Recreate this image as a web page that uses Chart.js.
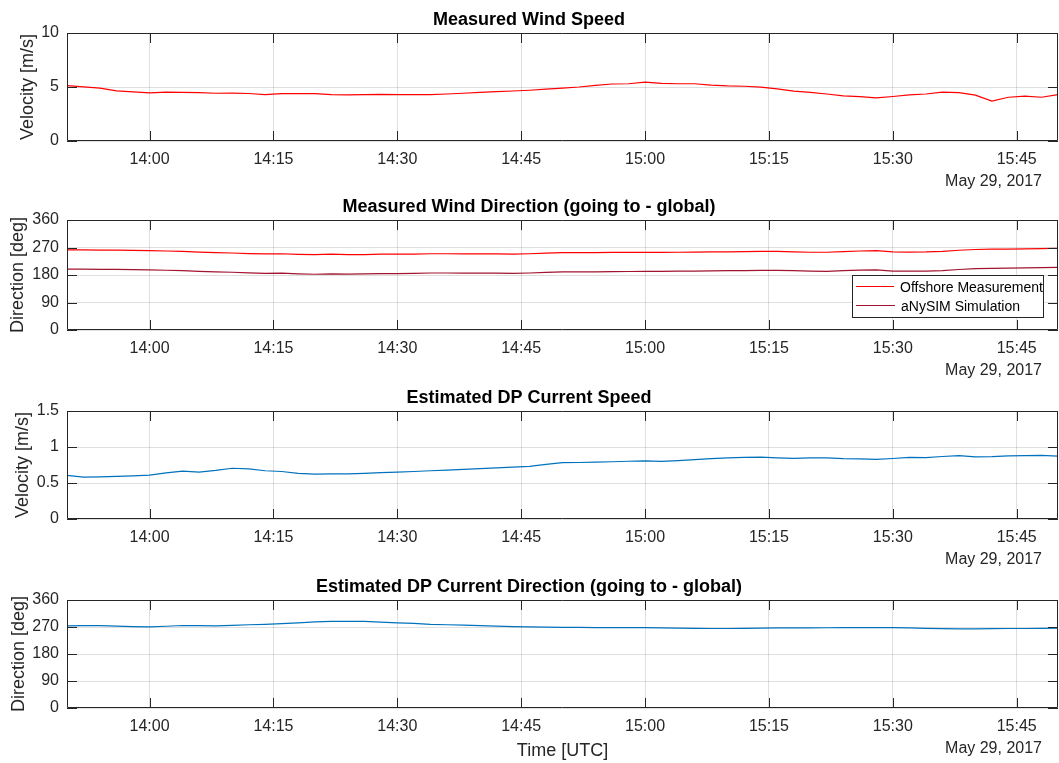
<!DOCTYPE html>
<html>
<head>
<meta charset="utf-8">
<title>Wind and current measurements</title>
<script src="https://cdn.jsdelivr.net/npm/chart.js@4.4.1/dist/chart.umd.min.js"></script>
<style>
  html, body { margin: 0; padding: 0; background: #fff; }
  body { position: relative; width: 1059px; height: 763px; overflow: hidden;
         font-family: 'Liberation Sans', Arial, Helvetica, sans-serif; }
  .panel { position: absolute; left: 0; width: 1059px; }
  #p1 { top: 4px; height: 192px; }
  #p2 { top: 191px; height: 194px; }
  #p3 { top: 382px; height: 192px; }
  #p4 { top: 571px; height: 192px; }
  #legend { position: absolute; left: 852px; top: 275px; width: 190px; height: 40px;
            border: 1px solid #262626; background: #fff; z-index: 5;
            font-size: 14px; color: #000; padding-top: 1px; box-sizing: content-box; }
  #legend .row { display: flex; align-items: center; height: 19px; white-space: nowrap; }
  #legend .swatch { width: 39px; margin: 0 6px 0 3px; border-top: 1px solid; }
</style>
</head>
<body>
<div class="panel" id="p1"><canvas id="c1"></canvas></div>
<div class="panel" id="p2"><canvas id="c2"></canvas></div>
<div class="panel" id="p3"><canvas id="c3"></canvas></div>
<div class="panel" id="p4"><canvas id="c4"></canvas></div>
<div id="legend"></div>

<script>
// sample times (UTC, 29 May 2017)
const times = [
  '13:50','13:52','13:54','13:56','13:58','14:00','14:02','14:04','14:06','14:08',
  '14:10','14:12','14:14','14:16','14:18','14:20','14:22','14:24','14:26','14:28',
  '14:30','14:32','14:34','14:36','14:38','14:40','14:42','14:44','14:46','14:48',
  '14:50','14:52','14:54','14:56','14:58','15:00','15:02','15:04','15:06','15:08',
  '15:10','15:12','15:14','15:16','15:18','15:20','15:22','15:24','15:26','15:28',
  '15:30','15:32','15:34','15:36','15:38','15:40','15:42','15:44','15:46','15:48','15:50'
];
const timeTicks = ['14:00','14:15','14:30','14:45','15:00','15:15','15:30','15:45'];
const timeRange = ['13:50', '15:50'];
const dateLabel = 'May 29, 2017';

// m/s
const windSpeed = [
  5.13, 5.02, 4.90, 4.65, 4.55, 4.45, 4.52, 4.50, 4.47, 4.42,
  4.44, 4.40, 4.30, 4.38, 4.38, 4.38, 4.30, 4.27, 4.30, 4.32,
  4.30, 4.30, 4.29, 4.35, 4.42, 4.50, 4.57, 4.63, 4.70, 4.80,
  4.90, 5.00, 5.15, 5.28, 5.30, 5.45, 5.33, 5.30, 5.30, 5.18,
  5.10, 5.07, 4.98, 4.82, 4.62, 4.50, 4.35, 4.18, 4.10, 4.00,
  4.12, 4.27, 4.35, 4.52, 4.48, 4.25, 3.70, 4.05, 4.15, 4.05, 4.30
];

// deg, going to
const windDirOffshore = [
  262, 262, 261.5, 261.5, 260.5, 259.5, 258.5, 257, 255, 253,
  252, 250, 249, 249.5, 247.5, 246.5, 248, 246.5, 247, 248,
  248, 248.5, 249.5, 249.5, 249, 249, 249, 248.5, 249.5, 251.5,
  253, 253, 253.5, 254, 254, 254, 254, 254.5, 255, 255.5,
  256, 256.5, 257, 257, 256, 254.5, 254.5, 256.5, 258.5, 259.5,
  255.5, 255, 255.5, 257.5, 261, 263.5, 264.5, 265, 265.5, 266.5, 267.5
];
const windDirSim = [
  199, 199, 198.5, 198.5, 197.5, 196.5, 195.5, 194, 192, 190,
  189, 187, 185.5, 186, 184, 182.5, 184, 183, 184, 184.5,
  184.5, 185, 186.5, 186.5, 186, 186, 186, 185.5, 186.5, 188.5,
  190, 190, 190.5, 191, 191.5, 192, 192, 192.5, 193, 193.5,
  194, 194.5, 195, 195, 194, 192.5, 192, 194, 196, 197,
  193, 192.5, 193, 194.5, 198, 201, 202, 202.5, 203, 204, 205
];

// m/s
const currentSpeed = [
  0.605, 0.582, 0.585, 0.592, 0.600, 0.609, 0.640, 0.665, 0.652, 0.675,
  0.705, 0.695, 0.670, 0.660, 0.635, 0.622, 0.626, 0.628, 0.635, 0.645,
  0.651, 0.660, 0.670, 0.680, 0.690, 0.700, 0.710, 0.720, 0.732, 0.760,
  0.782, 0.785, 0.789, 0.795, 0.802, 0.808, 0.800, 0.812, 0.825, 0.838,
  0.850, 0.856, 0.858, 0.850, 0.842, 0.848, 0.848, 0.838, 0.834, 0.828,
  0.840, 0.855, 0.852, 0.868, 0.880, 0.862, 0.866, 0.878, 0.880, 0.884, 0.872
];

// deg, going to
const currentDir = [
  273.5, 274.5, 274.5, 273, 271.5, 270.5, 272.5, 275, 274.5, 273.5,
  275.5, 277.5, 279, 281, 284, 287, 289, 289, 288.5, 286.5,
  284, 282, 279, 277.5, 276, 274.5, 273, 271.5, 270.5, 269.5,
  269, 268.5, 268, 268, 268, 268, 267, 266, 265.5, 265,
  265, 265.5, 266.5, 267, 267, 267, 267.5, 268, 268, 268,
  268, 267, 265.5, 264.5, 264, 264, 264.5, 265, 265, 265.5, 266
];

const FONT = "'Liberation Sans', Arial, Helvetica, sans-serif";
const AXIS = '#262626';
const GRID = 'rgba(38,38,38,0.15)';

Chart.defaults.font.family = FONT;
Chart.defaults.color = AXIS;

const toMin = s => { const [h, m] = s.split(':').map(Number); return h * 60 + m; };
const fmtMin = v => Math.floor(v / 60) + ':' + String(Math.round(v % 60)).padStart(2, '0');
const series = vals => times.map((t, i) => ({ x: toMin(t), y: vals[i] }));

// MATLAB style box: frame, inward ticks on all four sides, date under the axis
const matlabBox = {
  id: 'matlabBox',
  afterDraw(chart, args, opts) {
    const { ctx, chartArea: a, scales: { x, y } } = chart;
    const tl = 10;
    ctx.save();
    ctx.strokeStyle = AXIS;
    ctx.lineWidth = 1;
    ctx.beginPath();
    ctx.rect(a.left + 0.5, a.top + 0.5, a.right - a.left - 1, a.bottom - a.top - 1);
    x.ticks.forEach(t => {
      const px = Math.round(x.getPixelForValue(t.value)) + 0.5;
      ctx.moveTo(px, a.bottom); ctx.lineTo(px, a.bottom - tl);
      ctx.moveTo(px, a.top); ctx.lineTo(px, a.top + tl);
    });
    y.ticks.forEach(t => {
      const py = Math.round(y.getPixelForValue(t.value)) + 0.5;
      ctx.moveTo(a.left, py); ctx.lineTo(a.left + tl, py);
      ctx.moveTo(a.right, py); ctx.lineTo(a.right - tl, py);
    });
    ctx.stroke();
    if (opts.note) {
      ctx.fillStyle = AXIS;
      ctx.font = '16px ' + FONT;
      ctx.textAlign = 'right';
      ctx.textBaseline = 'middle';
      ctx.fillText(opts.note, a.right - 16, a.bottom + 41);
    }
    ctx.restore();
  }
};

function makePanel(id, opt) {
  const xScale = {
    type: 'linear',
    min: toMin(timeRange[0]),
    max: toMin(timeRange[1]),
    afterBuildTicks: s => { s.ticks = timeTicks.map(t => ({ value: toMin(t) })); },
    afterFit: s => { s.height = 55; },
    grid: { color: GRID, drawTicks: false },
    border: { display: false },
    ticks: { padding: 9, color: AXIS, font: { size: 16 }, maxRotation: 0, autoSkip: false,
             callback: v => fmtMin(v) },
    title: opt.xTitle
      ? { display: true, text: opt.xTitle, color: AXIS, font: { size: 18 }, padding: { top: 0, bottom: 1 } }
      : { display: false }
  };
  const yScale = {
    min: opt.yMin,
    max: opt.yMax,
    afterFit: s => { s.width = 67; },
    grid: { color: GRID, drawTicks: false },
    border: { display: false },
    ticks: { stepSize: opt.yStep, padding: 8, color: AXIS, font: { size: 16 },
             callback: v => String(+v.toFixed(2)) },
    title: { display: true, text: opt.yTitle, color: AXIS, font: { size: 18 },
             padding: { top: opt.yTitlePad, bottom: 0 } }
  };
  return new Chart(document.getElementById(id), {
    type: 'line',
    data: {
      datasets: opt.datasets.map(d => ({
        label: d.label,
        data: series(d.values),
        borderColor: d.color,
        borderWidth: 1.2,
        pointRadius: 0,
        tension: 0,
        fill: false
      }))
    },
    options: {
      responsive: true,
      maintainAspectRatio: false,
      devicePixelRatio: 1,
      animation: false,
      events: [],
      layout: { padding: { left: 0, right: 1, top: 0, bottom: 0 } },
      plugins: {
        legend: { display: false },
        tooltip: { enabled: false },
        title: {
          display: true,
          text: opt.title,
          color: '#000',
          font: { size: 18, weight: 'bold' },
          padding: { top: 5, bottom: 2.4 }
        },
        matlabBox: { note: dateLabel }
      },
      scales: { x: xScale, y: yScale }
    },
    plugins: [matlabBox]
  });
}

makePanel('c1', {
  title: 'Measured Wind Speed',
  yTitle: 'Velocity [m/s]', yTitlePad: 17, yMin: 0, yMax: 10, yStep: 5,
  datasets: [{ label: 'Measured wind speed', values: windSpeed, color: '#ff0000' }]
});

const dirChart = makePanel('c2', {
  title: 'Measured Wind Direction (going to - global)',
  yTitle: 'Direction [deg]', yTitlePad: 7, yMin: 0, yMax: 360, yStep: 90,
  datasets: [
    { label: 'Offshore Measurement', values: windDirOffshore, color: '#ff0000' },
    { label: 'aNySIM Simulation', values: windDirSim, color: '#a2142f' }
  ]
});

makePanel('c3', {
  title: 'Estimated DP Current Speed',
  yTitle: 'Velocity [m/s]', yTitlePad: 12.5, yMin: 0, yMax: 1.5, yStep: 0.5,
  datasets: [{ label: 'Current speed', values: currentSpeed, color: '#0072bd' }]
});

makePanel('c4', {
  title: 'Estimated DP Current Direction (going to - global)',
  yTitle: 'Direction [deg]', yTitlePad: 8, yMin: 0, yMax: 360, yStep: 90,
  xTitle: 'Time [UTC]',
  datasets: [{ label: 'Current direction', values: currentDir, color: '#0072bd' }]
});

// legend for the wind direction panel, built from its datasets
const legendEl = document.getElementById('legend');
dirChart.data.datasets.forEach(ds => {
  const row = document.createElement('div');
  row.className = 'row';
  const sw = document.createElement('span');
  sw.className = 'swatch';
  sw.style.borderTopColor = ds.borderColor;
  const txt = document.createElement('span');
  txt.textContent = ds.label;
  row.appendChild(sw);
  row.appendChild(txt);
  legendEl.appendChild(row);
});
</script>
</body>
</html>
